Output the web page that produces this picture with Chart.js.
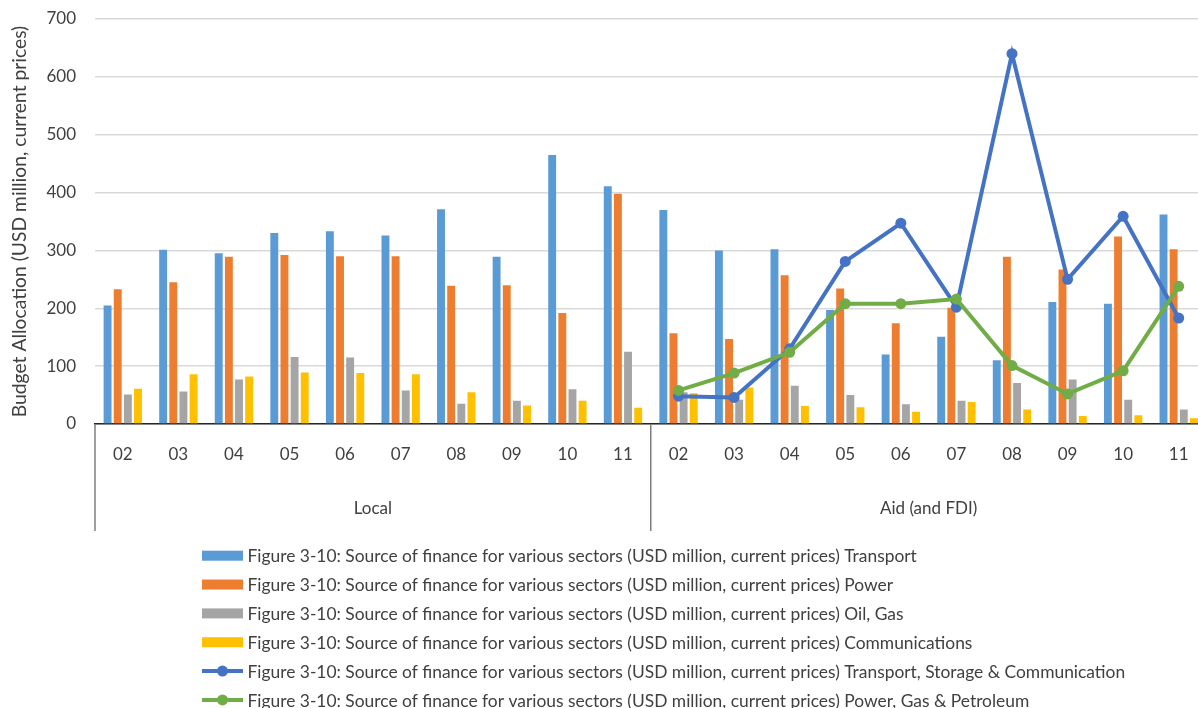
<!DOCTYPE html>
<html>
<head>
<meta charset="utf-8">
<title>Source of finance for various sectors</title>
<script src="https://cdn.jsdelivr.net/npm/chart.js@4.4.1/dist/chart.umd.min.js"></script>
<style>
  html, body { margin: 0; padding: 0; overflow: hidden; background: #ffffff; }
  canvas { display: block; }
</style>
</head>
<body>
<canvas id="chart" width="1212" height="708"></canvas>
<script>
// Years (20xx) within each source group
const years = ['02', '03', '04', '05', '06', '07', '08', '09', '10', '11'];
const groups = ['Local', 'Aid (and FDI)'];
const yTicks = [0, 100, 200, 300, 400, 500, 600, 700];

// Sector allocations, USD million (Local 02-11, then Aid 02-11)
const transport      = [205, 301, 295, 330, 333, 326, 371, 289, 465, 411,   370, 300, 302, 197, 120, 151, 110, 211, 208, 362];
const power          = [233, 245, 289, 292, 290, 290, 239, 240, 192, 398,   157, 147, 257, 234, 174, 201, 289, 267, 324, 302];
const oilGas         = [ 51,  56,  77, 116, 115,  58,  35,  40,  60, 125,    55,  42,  66,  50,  34,  40,  71,  77,  42,  25];
const communications = [ 61,  86,  82,  89,  88,  86,  55,  32,  40,  28,    53,  63,  31,  29,  21,  38,  25,  14,  15,  10];

// Aid-only aggregate series
const transportStorageComm = [null, null, null, null, null, null, null, null, null, null,
                              48, 46, 130, 281, 347, 202, 640, 250, 359, 183];
const powerGasPetroleum    = [null, null, null, null, null, null, null, null, null, null,
                              58, 88, 124, 208, 208, 216, 101, 52, 92, 238];

const prefix = 'Figure 3-10: Source of finance for various sectors (USD million, current prices) ';
const seriesNames = ['Transport', 'Power', 'Oil, Gas', 'Communications',
                     'Transport, Storage & Communication', 'Power, Gas & Petroleum'];

const FONT = 'Lato, "Liberation Sans", sans-serif';
const TEXT = '#404040';

const categories = groups.flatMap(() => years);
const groupSize = years.length;

function barSet(label, data, color) {
  return {
    type: 'bar', label, data, backgroundColor: color, borderWidth: 0,
    categoryPercentage: 0.73, barPercentage: 0.78, order: 2
  };
}
function lineSet(label, data, color, order) {
  return {
    type: 'line', label, data, borderColor: color, backgroundColor: color,
    borderWidth: 4, pointRadius: 5.5, pointHoverRadius: 5.5,
    pointBackgroundColor: color, pointBorderColor: color, pointBorderWidth: 0,
    tension: 0, fill: false, order
  };
}

// Two-level category axis: group captions and separators under the year labels
const groupAxisPlugin = {
  id: 'groupAxis',
  afterDraw(chart) {
    const { ctx, chartArea } = chart;
    const x = chart.scales.x;
    const top = chartArea.bottom;
    const bottom = 531;
    ctx.save();
    ctx.strokeStyle = '#7f7f7f';
    ctx.lineWidth = 1.5;
    const seps = [chartArea.left];
    for (let g = 1; g < groups.length; g++) {
      const a = x.getPixelForValue(g * groupSize - 1);
      const b = x.getPixelForValue(g * groupSize);
      seps.push((a + b) / 2);
    }
    seps.push(chartArea.right);
    seps.forEach(px => {
      ctx.beginPath();
      ctx.moveTo(px, top);
      ctx.lineTo(px, bottom);
      ctx.stroke();
    });
    ctx.fillStyle = TEXT;
    ctx.font = '17px ' + FONT;
    ctx.textAlign = 'center';
    ctx.textBaseline = 'middle';
    groups.forEach((name, g) => {
      const a = x.getPixelForValue(g * groupSize);
      const b = x.getPixelForValue(g * groupSize + groupSize - 1);
      ctx.fillText(name, (a + b) / 2, 508.5);
    });
    ctx.restore();
  }
};

// Stacked legend list below the axis
const listLegendPlugin = {
  id: 'listLegend',
  afterDraw(chart) {
    const { ctx } = chart;
    const x0 = 202, boxW = 41, textX = 247.5, y0 = 555.7, step = 28.85;
    ctx.save();
    ctx.font = '17.4px ' + FONT;
    ctx.textBaseline = 'middle';
    ctx.textAlign = 'left';
    chart.data.datasets.forEach((ds, i) => {
      const y = y0 + i * step;
      if (ds.type === 'bar') {
        ctx.fillStyle = ds.backgroundColor;
        ctx.fillRect(x0, y - 5, boxW, 10);
      } else {
        ctx.strokeStyle = ds.borderColor;
        ctx.lineWidth = 4;
        ctx.beginPath();
        ctx.moveTo(x0, y);
        ctx.lineTo(x0 + boxW, y);
        ctx.stroke();
        ctx.fillStyle = ds.borderColor;
        ctx.beginPath();
        ctx.arc(x0 + boxW / 2, y, 5.5, 0, Math.PI * 2);
        ctx.fill();
      }
      ctx.fillStyle = TEXT;
      ctx.fillText(ds.label, textX, y + 1);
    });
    ctx.restore();
  }
};

new Chart(document.getElementById('chart'), {
  data: {
    labels: categories,
    datasets: [
      barSet(prefix + seriesNames[0], transport, '#5B9BD5'),
      barSet(prefix + seriesNames[1], power, '#ED7D31'),
      barSet(prefix + seriesNames[2], oilGas, '#A5A5A5'),
      barSet(prefix + seriesNames[3], communications, '#FFC000'),
      lineSet(prefix + seriesNames[4], transportStorageComm, '#4472C4', 1),
      lineSet(prefix + seriesNames[5], powerGasPetroleum, '#70AD47', 0)
    ]
  },
  options: {
    responsive: false,
    animation: false,
    events: [],
    layout: { padding: { top: 19, right: 3, bottom: 0, left: 0 } },
    plugins: {
      legend: { display: false },
      tooltip: { enabled: false },
      title: { display: false }
    },
    scales: {
      x: {
        type: 'category',
        offset: true,
        grid: { display: false, drawTicks: false },
        border: { display: true, color: '#262626', width: 1.5 },
        ticks: {
          font: { family: FONT, size: 17 },
          color: TEXT,
          padding: 20,
          maxRotation: 0,
          autoSkip: false
        },
        afterFit(scale) { scale.height = 284; }
      },
      y: {
        min: 0,
        max: yTicks[yTicks.length - 1],
        afterBuildTicks(scale) { scale.ticks = yTicks.map(v => ({ value: v })); },
        grid: { color: '#d9d9d9', lineWidth: 1.5, drawTicks: false },
        border: { display: false },
        ticks: {
          font: { family: FONT, size: 17 },
          color: TEXT,
          padding: 19
        },
        title: {
          display: true,
          text: 'Budget Allocation (USD million, current prices)',
          font: { family: FONT, size: 19.3 },
          color: TEXT,
          padding: { top: 8.5, bottom: 0 }
        },
        afterFit(scale) {
          scale.width = 95;
          // labels may overhang the plot edges; keep the plot height fixed
          scale.paddingTop = 0;
          scale.paddingBottom = 0;
        }
      }
    }
  },
  plugins: [groupAxisPlugin, listLegendPlugin]
});
</script>
</body>
</html>
